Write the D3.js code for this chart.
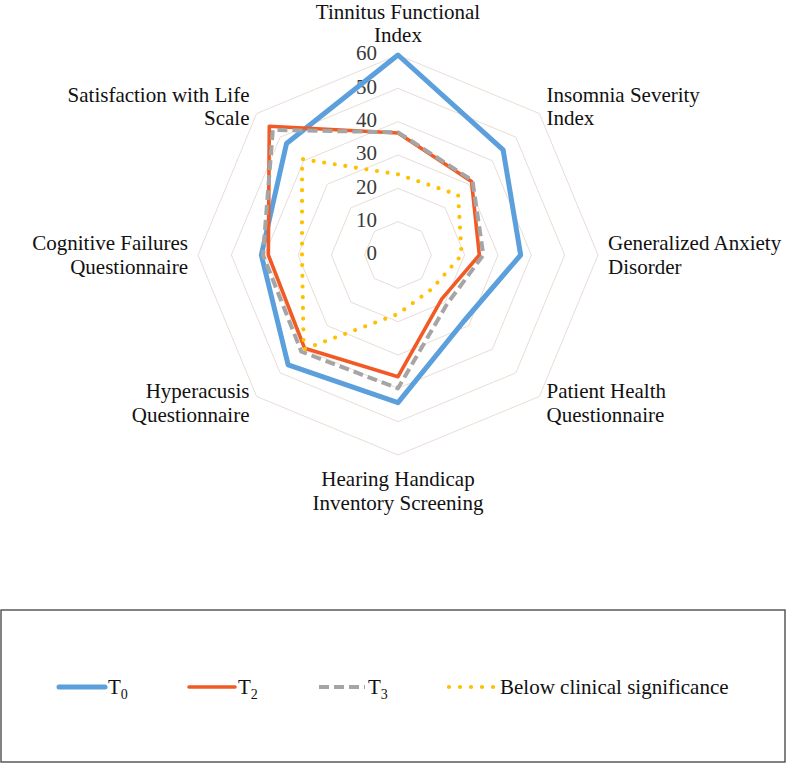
<!DOCTYPE html>
<html>
<head>
<meta charset="utf-8">
<script src="https://cdn.jsdelivr.net/npm/d3@7"></script>
<style>
  body { margin: 0; background: #fff; }
</style>
</head>
<body>
<div id="wrapper"></div>
<script>
// 1. Data

const categories = [
  ["Tinnitus Functional", "Index"],
  ["Insomnia Severity", "Index"],
  ["Generalized Anxiety", "Disorder"],
  ["Patient Health", "Questionnaire"],
  ["Hearing Handicap", "Inventory Screening"],
  ["Hyperacusis", "Questionnaire"],
  ["Cognitive Failures", "Questionnaire"],
  ["Satisfaction with Life", "Scale"],
];
const t0Values = [60, 44.6, 36.8, 28, 44.3, 46.6, 41, 47.3];
const t2Values = [36.6, 31.2, 24.4, 18.6, 36.5, 39.6, 38.9, 54.6];
const t3Values = [36.8, 31.6, 25.6, 20.8, 40, 41, 40.5, 53.1];
const belowValues = [24.2, 25.5, 19.1, 14.4, 17.7, 40, 28.8, 40.7];
const tickValues = [0, 10, 20, 30, 40, 50, 60];

const series = [
  { name: "T", sub: "0", values: t0Values, color: "#5B9FDC", width: 5, dash: null },
  { name: "T", sub: "2", values: t2Values, color: "#F15A24", width: 3.6, dash: null },
  { name: "T", sub: "3", values: t3Values, color: "#A5A5A5", width: 4, dash: "10,5" },
  { name: "Below clinical significance", sub: "", values: belowValues, color: "#FFC000", width: 4.2, dash: "0,10.7" },
];

const fontFamily = "'Liberation Serif', 'Times New Roman', serif";

// 2. Dimensions

const width = 787;
const height = 765;
const center = { x: 398, y: 255 };
const radius = 200;
const labelGap = 10;
const lineHeight = 23.5;

// 3. Canvas

const svg = d3.select("#wrapper")
  .append("svg")
    .attr("width", width)
    .attr("height", height)
    .style("font-family", fontFamily);

const bounds = svg.append("g")
  .attr("transform", `translate(${center.x}, ${center.y})`);

// 4. Scales

const rScale = d3.scaleLinear()
  .domain([0, 60])
  .range([0, radius]);
const angleScale = d3.scaleLinear()
  .domain([0, categories.length])
  .range([0, 2 * Math.PI]);

// 5. Grid

const gridLine = d3.lineRadial()
  .angle((d, i) => angleScale(i))
  .radius(d => rScale(d))
  .curve(d3.curveLinearClosed);

bounds.selectAll(".ring")
  .data(tickValues.filter(d => d > 0))
  .join("path")
    .attr("class", "ring")
    .attr("d", v => gridLine(categories.map(() => v)))
    .attr("fill", "none")
    .attr("stroke", "#e9ddd6")
    .attr("stroke-width", 1);

bounds.selectAll(".tick")
  .data(tickValues)
  .join("text")
    .attr("class", "tick")
    .attr("x", -21)
    .attr("y", d => -rScale(d))
    .attr("dy", "0.25em")
    .attr("text-anchor", "end")
    .attr("font-size", 21)
    .attr("fill", "#3a3a3a")
    .text(d => d);

// 6. Series

const seriesLine = d3.lineRadial()
  .angle((d, i) => angleScale(i))
  .radius(d => rScale(d))
  .curve(d3.curveLinearClosed);

bounds.selectAll(".series")
  .data(series)
  .join("path")
    .attr("class", "series")
    .attr("d", d => seriesLine(d.values))
    .attr("fill", "none")
    .attr("stroke", d => d.color)
    .attr("stroke-width", d => d.width)
    .attr("stroke-dasharray", d => d.dash)
    .attr("stroke-linejoin", "round")
    .attr("stroke-linecap", d => d.dash && d.dash.startsWith("0") ? "round" : "butt");

// 7. Category labels

bounds.selectAll(".label")
  .data(categories)
  .join("text")
    .attr("class", "label")
    .attr("font-size", 21)
    .attr("fill", "#111")
    .each(function (d, i) {
      const a = angleScale(i);
      const r = radius + labelGap;
      const x = r * Math.sin(a);
      const y = -r * Math.cos(a);
      const s = Math.sin(a);
      const c = Math.cos(a);
      let anchor = "middle";
      let firstY = y - 5;
      if (Math.abs(s) < 0.01) {
        // top label sits just above the outer ring, bottom one just below
        firstY = c > 0 ? y - 3 - lineHeight : y + 21;
      } else {
        anchor = s > 0 ? "start" : "end";
      }
      const el = d3.select(this).attr("text-anchor", anchor);
      d.forEach((line, j) => {
        el.append("tspan")
          .attr("x", x)
          .attr("y", firstY + j * lineHeight)
          .text(line);
      });
    });

// 8. Legend

const legend = svg.append("g");
legend.append("rect")
  .attr("x", 1)
  .attr("y", 610)
  .attr("width", 784)
  .attr("height", 152)
  .attr("fill", "none")
  .attr("stroke", "#404040")
  .attr("stroke-width", 1.3);

const legendItems = legend.selectAll(".legend-item")
  .data(series)
  .join("g")
    .attr("class", "legend-item")
    .attr("transform", (d, i) => `translate(${59 + i * 130}, 687)`);

legendItems.append("line")
  .attr("x1", 0)
  .attr("x2", 46)
  .attr("stroke", d => d.color)
  .attr("stroke-width", d => d.width)
  .attr("stroke-dasharray", d => d.dash ? d.dash.replace("10.7", "11") : null)
  .attr("stroke-linecap", d => d.dash && !d.dash.startsWith("0") ? "butt" : "round");

const legendText = legendItems.append("text")
  .attr("x", d => d.dash && d.dash.startsWith("0") ? 51 : 49)
  .attr("y", 7)
  .attr("font-size", 21)
  .attr("fill", "#111");
legendText.append("tspan")
  .text(d => d.name);
legendText.append("tspan")
  .attr("dy", 5)
  .attr("font-size", 14)
  .text(d => d.sub);
</script>
</body>
</html>
